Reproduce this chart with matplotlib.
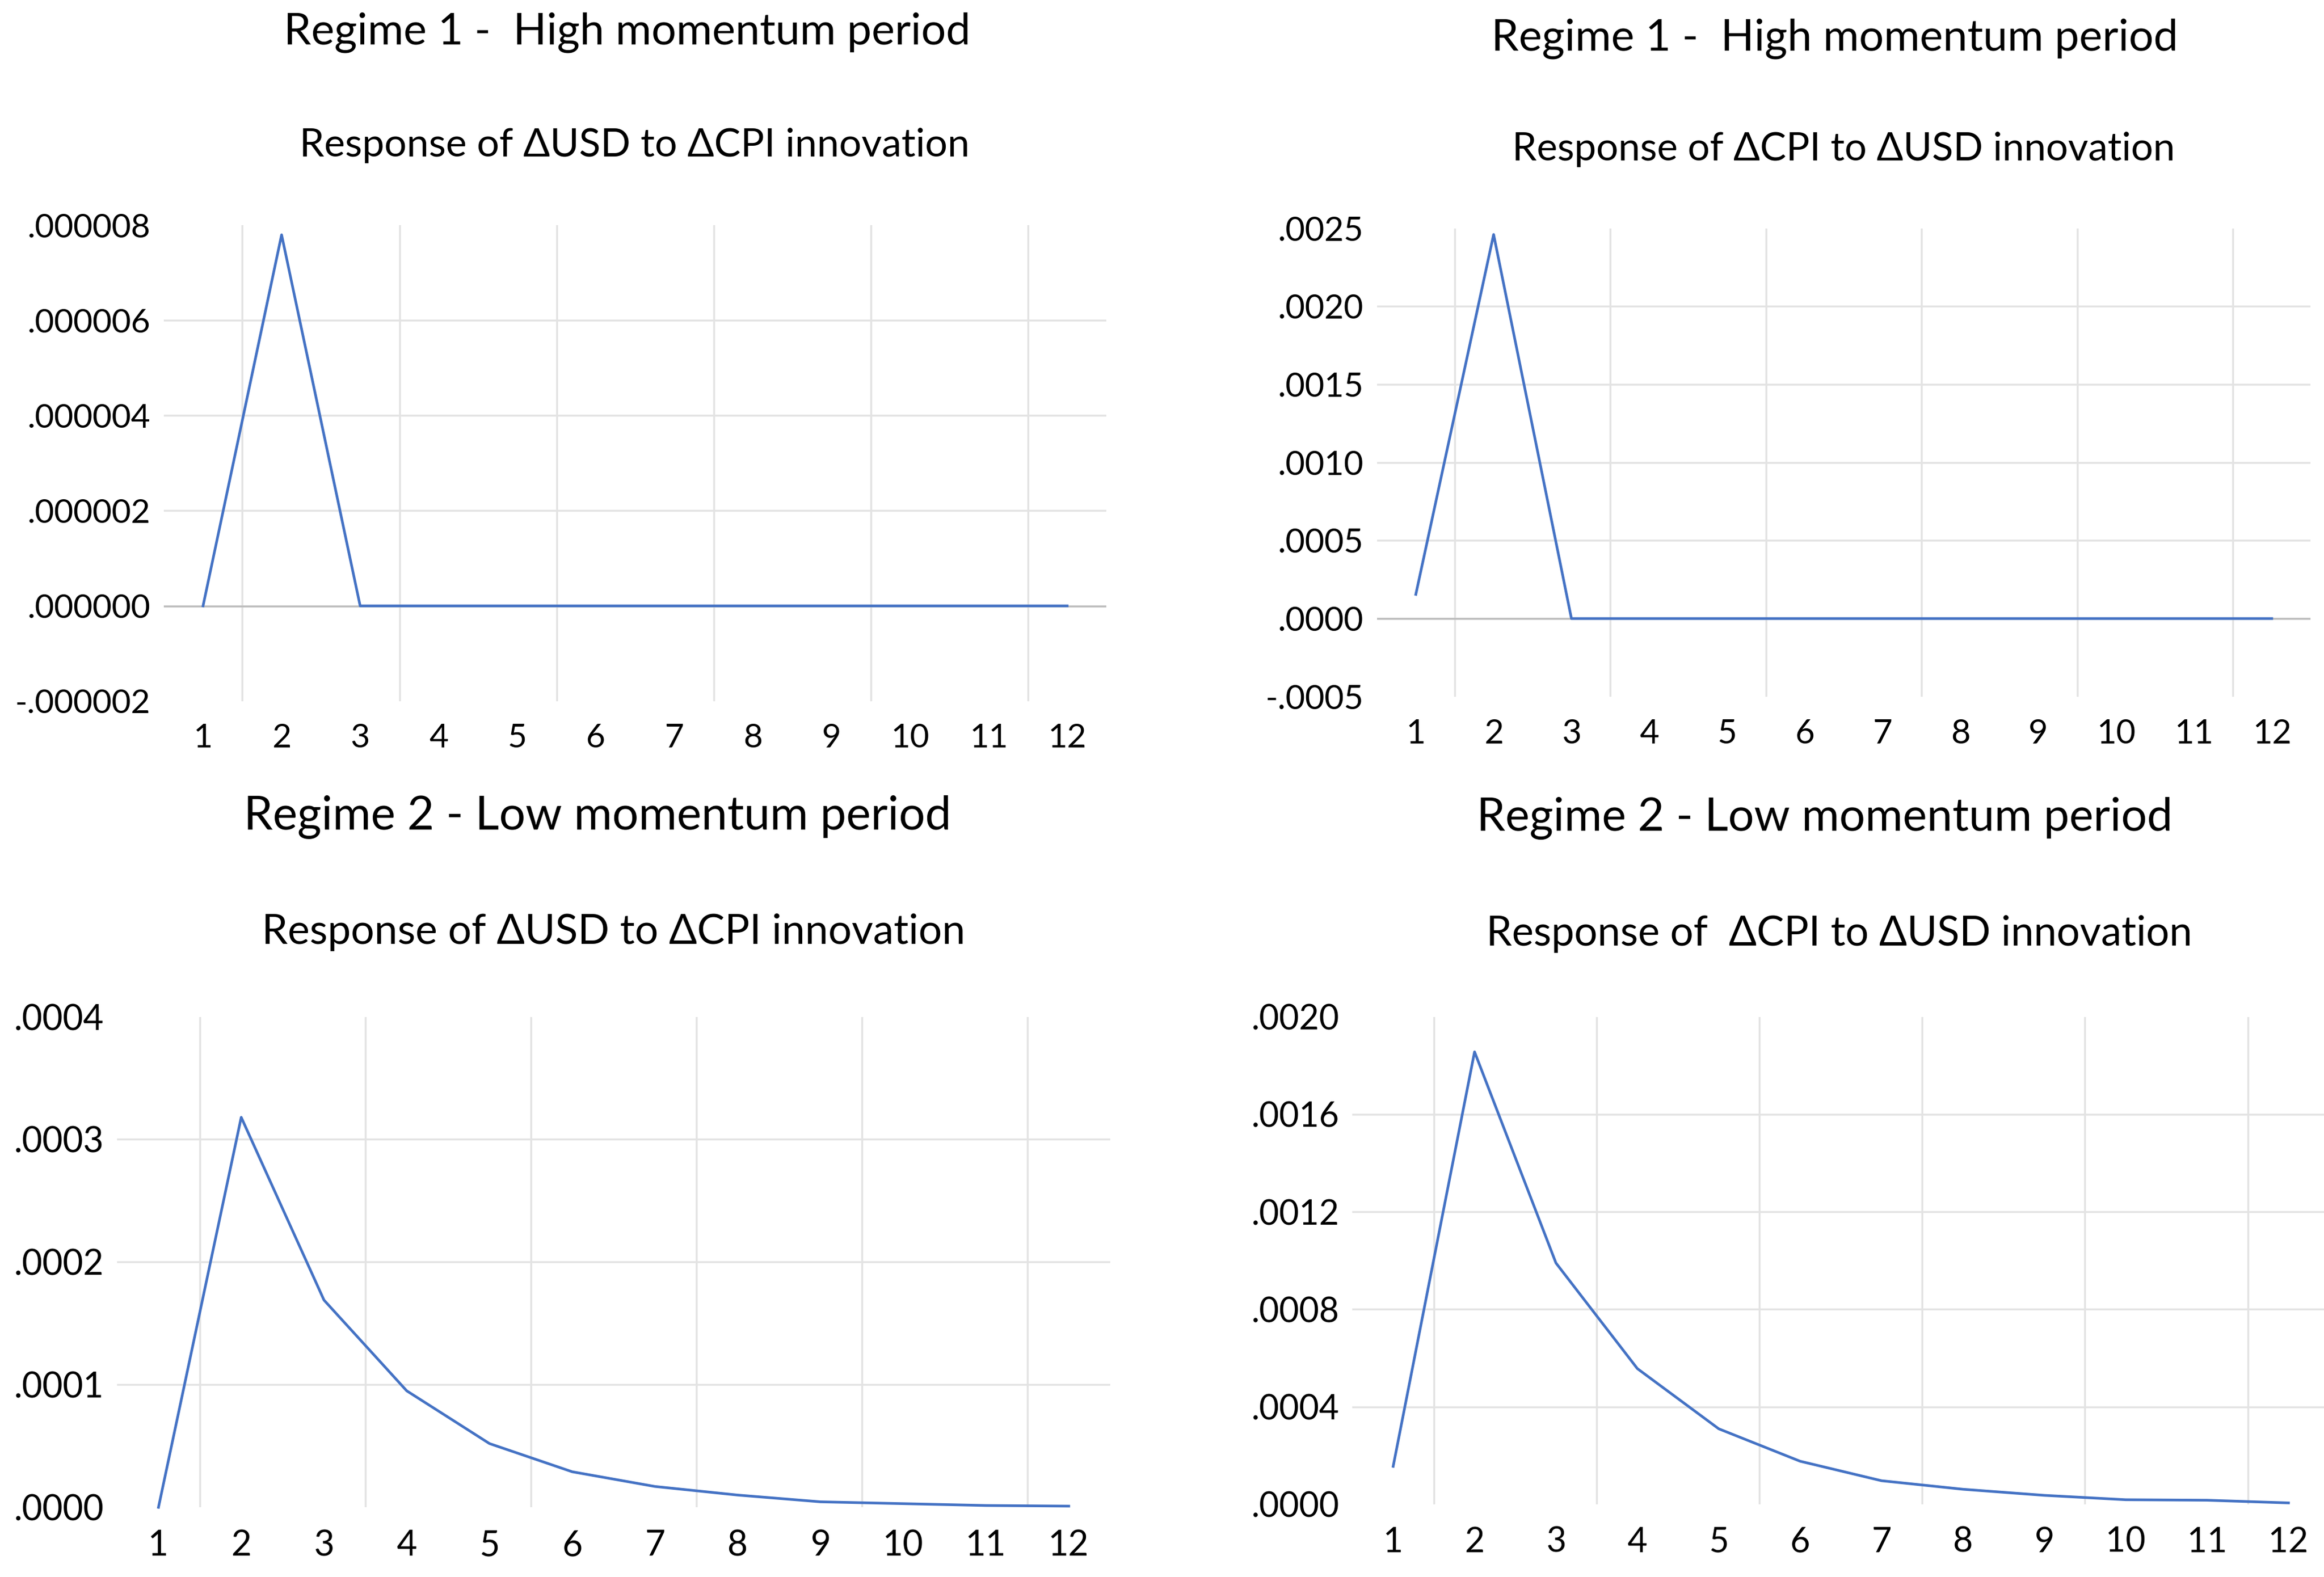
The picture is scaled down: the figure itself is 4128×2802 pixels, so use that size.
import matplotlib
matplotlib.use("Agg")
import matplotlib.pyplot as plt

# humanist sans close to the Calibri of the original; DejaVu covers the deltas
plt.rcParams['font.family'] = ['Lato', 'DejaVu Sans']

periods = list(range(1, 13))

# Regime 1, response of dUSD to dCPI innovation
r1_usd = [0.0, 7.8e-6, 0, 0, 0, 0, 0, 0, 0, 0, 0, 0]
r1_usd_ticks = [-2e-6, 0, 2e-6, 4e-6, 6e-6, 8e-6]
r1_usd_labels = ['-.000002', '.000000', '.000002', '.000004', '.000006', '.000008']

# Regime 1, response of dCPI to dUSD innovation
r1_cpi = [0.000155, 0.00246, 0, 0, 0, 0, 0, 0, 0, 0, 0, 0]
r1_cpi_ticks = [-0.0005, 0, 0.0005, 0.0010, 0.0015, 0.0020, 0.0025]
r1_cpi_labels = ['-.0005', '.0000', '.0005', '.0010', '.0015', '.0020', '.0025']

# Regime 2, response of dUSD to dCPI innovation
r2_usd = [0.0, 3.18e-4, 1.69e-4, 0.95e-4, 0.52e-4, 0.29e-4, 0.17e-4,
          0.10e-4, 0.045e-4, 0.03e-4, 0.015e-4, 0.01e-4]
r2_usd_ticks = [0, 0.0001, 0.0002, 0.0003, 0.0004]
r2_usd_labels = ['.0000', '.0001', '.0002', '.0003', '.0004']

# Regime 2, response of dCPI to dUSD innovation
r2_cpi = [1.56e-4, 18.56e-4, 9.9e-4, 5.57e-4, 3.10e-4, 1.77e-4, 0.97e-4,
          0.62e-4, 0.37e-4, 0.19e-4, 0.17e-4, 0.06e-4]
r2_cpi_ticks = [0, 0.0004, 0.0008, 0.0012, 0.0016, 0.0020]
r2_cpi_labels = ['.0000', '.0004', '.0008', '.0012', '.0016', '.0020']

W, H = 1568.0, 1064.0  # layout measured on the reduced picture
fig = plt.figure(figsize=(41.28, 28.02), dpi=100)

def panel(box, values, ticks, labels, zero_line, tsize):
    left, right, top, bottom = box
    ax = fig.add_axes([left/W, 1 - bottom/H, (right - left)/W, (bottom - top)/H])
    ax.set_xlim(0.5, 12.5)
    ax.set_ylim(ticks[0], ticks[-1])
    for v in ticks[1:-1]:
        ax.axhline(v, color='#E3E3E3', lw=2.5, zorder=1)
    for x in periods[:-1:2]:
        ax.axvline(x + 0.5, color='#E3E3E3', lw=2.5, zorder=1)
    if zero_line:
        ax.axhline(0, color='#BDBDBD', lw=2.5, zorder=2)
    ax.plot(periods, values, color='#4472C4', lw=3.4, zorder=3, clip_on=False)
    ax.set_xticks(periods)
    ax.set_xticklabels([str(p) for p in periods])
    ax.set_yticks(ticks)
    ax.set_yticklabels(labels)
    ax.tick_params(axis='both', length=0, labelsize=tsize, colors='black')
    ax.tick_params(axis='x', pad=28)
    ax.tick_params(axis='y', pad=17)
    for s in ax.spines.values():
        s.set_visible(False)
    return ax

panel((110.5, 746.5, 152, 473), r1_usd, r1_usd_ticks, r1_usd_labels, True, 42.5)
panel((929, 1559, 154, 470), r1_cpi, r1_cpi_ticks, r1_cpi_labels, True, 43)
panel((79, 749, 686, 1017), r2_usd, r2_usd_ticks, r2_usd_labels, False, 45)
panel((912.5, 1571.5, 686, 1015), r2_cpi, r2_cpi_ticks, r2_cpi_labels, False, 44)

def label(x, y, s, size):
    fig.text(x/W, 1 - y/H, s, ha='center', va='center', fontsize=size)

label(423, 22, 'Regime 1 -  High momentum period', 56)
label(428, 98, 'Response of ΔUSD to ΔCPI innovation', 50.5)
label(1238, 26, 'Regime 1 -  High momentum period', 56)
label(1244, 101, 'Response of ΔCPI to ΔUSD innovation', 50)
label(403, 551, 'Regime 2 - Low momentum period', 59.5)
label(414, 629, 'Response of ΔUSD to ΔCPI innovation', 53)
label(1231, 552, 'Regime 2 - Low momentum period', 58.5)
label(1241, 630, 'Response of  ΔCPI to ΔUSD innovation', 52.5)

fig.savefig('out.png', dpi=100)
